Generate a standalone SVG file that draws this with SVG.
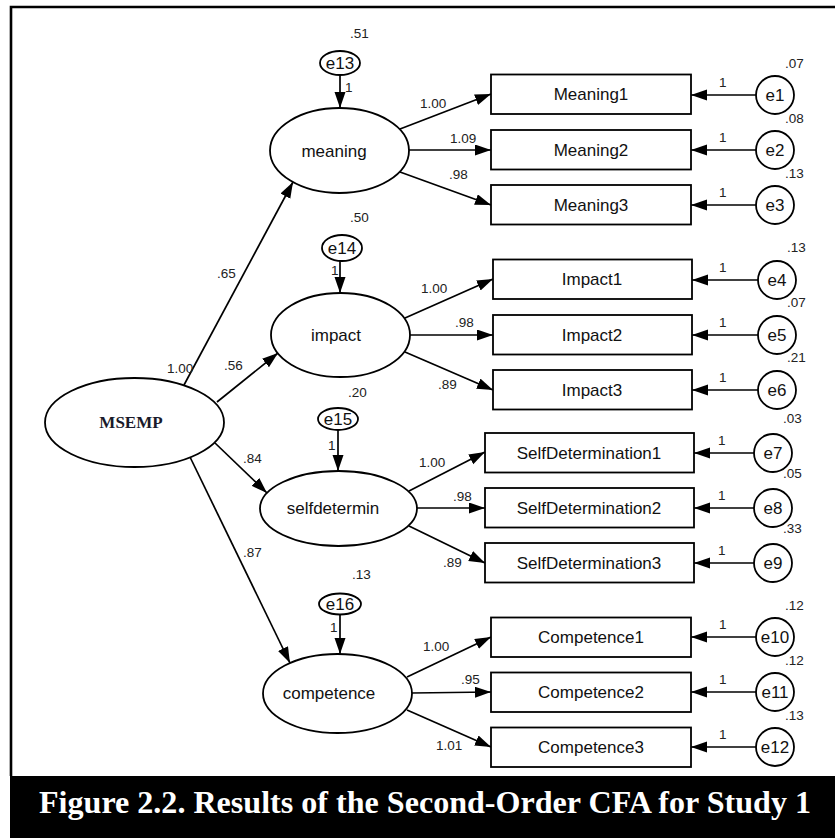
<svg xmlns="http://www.w3.org/2000/svg" width="835" height="838" viewBox="0 0 835 838">
<defs>
<style>
.shape{fill:#fff;stroke:#000;stroke-width:1.8}
.conn line{stroke:#000;stroke-width:1.7;marker-end:url(#ah)}
.lbl{font-family:"Liberation Sans",Arial,sans-serif;font-size:13.5px;fill:#222}
.nt{font-family:"Liberation Sans",Arial,sans-serif;font-size:17px;fill:#111;text-anchor:middle}
</style>
<marker id="ah" markerUnits="userSpaceOnUse" markerWidth="17" markerHeight="12" refX="16" refY="5.5" orient="auto">
<path d="M0,0 L16,5.5 L0,11 z" fill="#000"/>
</marker>
</defs>
<rect x="0" y="0" width="835" height="838" fill="#fff"/>
<path d="M11,776 V7 H835" fill="none" stroke="#000" stroke-width="2.6"/>
<rect x="10" y="776" width="825" height="62" fill="#000"/>
<text x="39" y="813" font-family="'Liberation Serif','Times New Roman',serif" font-weight="bold" font-size="32" fill="#fff" textLength="772" lengthAdjust="spacingAndGlyphs">Figure 2.2. Results of the Second-Order CFA for Study 1</text>

<g class="conn" id="connectors">
<line x1="184" y1="385" x2="293" y2="182"/>
<line x1="217" y1="402" x2="278" y2="353"/>
<line x1="215" y1="443" x2="267" y2="493"/>
<line x1="190" y1="457" x2="290" y2="663"/>
<line x1="340" y1="75" x2="340" y2="108"/>
<line x1="340" y1="261" x2="340" y2="293"/>
<line x1="338" y1="429" x2="338" y2="471"/>
<line x1="340" y1="614" x2="340" y2="654"/>
<line x1="400" y1="129" x2="491" y2="94"/>
<line x1="409" y1="150" x2="491" y2="150"/>
<line x1="400" y1="172" x2="491" y2="205"/>
<line x1="405" y1="318" x2="493" y2="279"/>
<line x1="410" y1="335" x2="493" y2="335"/>
<line x1="405" y1="352" x2="493" y2="390"/>
<line x1="409" y1="491" x2="485" y2="452"/>
<line x1="417" y1="508" x2="485" y2="508"/>
<line x1="409" y1="526" x2="485" y2="563"/>
<line x1="407" y1="677" x2="491" y2="637"/>
<line x1="412" y1="693" x2="491" y2="692"/>
<line x1="407" y1="710" x2="491" y2="747"/>
<line x1="756" y1="95" x2="691" y2="95"/>
<line x1="756" y1="150" x2="691" y2="150"/>
<line x1="756" y1="205" x2="691" y2="205"/>
<line x1="758" y1="280" x2="692" y2="280"/>
<line x1="758" y1="335" x2="692" y2="335"/>
<line x1="758" y1="390" x2="692" y2="390"/>
<line x1="754" y1="453" x2="694" y2="453"/>
<line x1="754" y1="508" x2="694" y2="508"/>
<line x1="754" y1="563" x2="694" y2="563"/>
<line x1="756" y1="637" x2="691" y2="637"/>
<line x1="756" y1="692" x2="691" y2="692"/>
<line x1="756" y1="747" x2="691" y2="747"/>
</g>

<g class="lbl" id="labels">
<text x="217" y="278">.65</text>
<text x="167" y="373">1.00</text>
<text x="224" y="370">.56</text>
<text x="243" y="463">.84</text>
<text x="243" y="557">.87</text>
<text x="420" y="108">1.00</text>
<text x="450" y="143">1.09</text>
<text x="449" y="179">.98</text>
<text x="421" y="293">1.00</text>
<text x="455" y="327">.98</text>
<text x="438" y="389">.89</text>
<text x="419" y="467">1.00</text>
<text x="453" y="501">.98</text>
<text x="443" y="567">.89</text>
<text x="423" y="651">1.00</text>
<text x="461" y="684">.95</text>
<text x="436" y="750">1.01</text>
<text x="345" y="92">1</text>
<text x="331" y="275">1</text>
<text x="328" y="450">1</text>
<text x="330" y="632">1</text>
<text x="350" y="38">.51</text>
<text x="350" y="222">.50</text>
<text x="348" y="397">.20</text>
<text x="352" y="579">.13</text>
<text x="719" y="87">1</text>
<text x="719" y="142">1</text>
<text x="719" y="197">1</text>
<text x="719" y="272">1</text>
<text x="719" y="327">1</text>
<text x="719" y="382">1</text>
<text x="718" y="445">1</text>
<text x="718" y="500">1</text>
<text x="718" y="555">1</text>
<text x="719" y="629">1</text>
<text x="719" y="684">1</text>
<text x="719" y="739">1</text>
<text x="785" y="68">.07</text>
<text x="785" y="123">.08</text>
<text x="785" y="178">.13</text>
<text x="787" y="252">.13</text>
<text x="787" y="307">.07</text>
<text x="787" y="362">.21</text>
<text x="783" y="423">.03</text>
<text x="783" y="478">.05</text>
<text x="783" y="533">.33</text>
<text x="785" y="610">.12</text>
<text x="785" y="665">.12</text>
<text x="785" y="720">.13</text>
</g>

<g id="MSEMP"><ellipse class="shape" cx="134.5" cy="422.5" rx="89.5" ry="44.5"/><text x="131" y="428" font-family="'Liberation Serif','Times New Roman',serif" font-weight="bold" font-size="17" fill="#1a1a2a" text-anchor="middle">MSEMP</text></g>

<g id="meaning"><ellipse class="shape" cx="339.5" cy="150.5" rx="69.5" ry="42.5"/><text class="nt" x="334" y="157">meaning</text></g>
<g id="impact"><ellipse class="shape" cx="340.5" cy="335" rx="69.5" ry="42"/><text class="nt" x="336" y="341">impact</text></g>
<g id="selfdetermin"><ellipse class="shape" cx="338.5" cy="508.5" rx="78.5" ry="37.5"/><text class="nt" x="333" y="514">selfdetermin</text></g>
<g id="competence"><ellipse class="shape" cx="337.5" cy="693.5" rx="74.5" ry="39.5"/><text class="nt" x="329" y="699">competence</text></g>

<g id="e13"><ellipse class="shape" cx="340" cy="63" rx="20" ry="12"/><text class="nt" x="340" y="69">e13</text></g>
<g id="e14"><ellipse class="shape" cx="342" cy="248" rx="20" ry="13"/><text class="nt" x="342" y="254">e14</text></g>
<g id="e15"><ellipse class="shape" cx="338" cy="419" rx="20" ry="11"/><text class="nt" x="338" y="425">e15</text></g>
<g id="e16"><ellipse class="shape" cx="340" cy="604" rx="21" ry="10.5"/><text class="nt" x="340" y="610">e16</text></g>

<g id="Meaning1"><rect class="shape" x="491" y="74.5" width="200" height="39.5"/><text class="nt" x="591" y="100">Meaning1</text></g>
<g id="Meaning2"><rect class="shape" x="491" y="130" width="200" height="39.5"/><text class="nt" x="591" y="156">Meaning2</text></g>
<g id="Meaning3"><rect class="shape" x="491" y="185" width="200" height="39.5"/><text class="nt" x="591" y="211">Meaning3</text></g>
<g id="Impact1"><rect class="shape" x="493" y="259.5" width="199" height="39.5"/><text class="nt" x="592" y="285">Impact1</text></g>
<g id="Impact2"><rect class="shape" x="493" y="315" width="199" height="39.5"/><text class="nt" x="592" y="341">Impact2</text></g>
<g id="Impact3"><rect class="shape" x="493" y="370" width="199" height="39.5"/><text class="nt" x="592" y="396">Impact3</text></g>
<g id="SelfDetermination1"><rect class="shape" x="485" y="433" width="209" height="39.5"/><text class="nt" x="589" y="459">SelfDetermination1</text></g>
<g id="SelfDetermination2"><rect class="shape" x="485" y="488" width="209" height="39.5"/><text class="nt" x="589" y="514">SelfDetermination2</text></g>
<g id="SelfDetermination3"><rect class="shape" x="485" y="543" width="209" height="39.5"/><text class="nt" x="589" y="569">SelfDetermination3</text></g>
<g id="Competence1"><rect class="shape" x="491" y="617.5" width="200" height="39.5"/><text class="nt" x="591" y="643">Competence1</text></g>
<g id="Competence2"><rect class="shape" x="491" y="672.5" width="200" height="39.5"/><text class="nt" x="591" y="698">Competence2</text></g>
<g id="Competence3"><rect class="shape" x="491" y="727.5" width="200" height="39.5"/><text class="nt" x="591" y="753">Competence3</text></g>

<g id="e1"><circle class="shape" cx="775" cy="95" r="19"/><text class="nt" x="775" y="101">e1</text></g>
<g id="e2"><circle class="shape" cx="775" cy="150" r="19"/><text class="nt" x="775" y="156">e2</text></g>
<g id="e3"><circle class="shape" cx="775" cy="205" r="19"/><text class="nt" x="775" y="211">e3</text></g>
<g id="e4"><circle class="shape" cx="777" cy="280" r="19"/><text class="nt" x="777" y="286">e4</text></g>
<g id="e5"><circle class="shape" cx="777" cy="335" r="19"/><text class="nt" x="777" y="341">e5</text></g>
<g id="e6"><circle class="shape" cx="777" cy="390" r="19"/><text class="nt" x="777" y="396">e6</text></g>
<g id="e7"><circle class="shape" cx="773" cy="453" r="19"/><text class="nt" x="773" y="459">e7</text></g>
<g id="e8"><circle class="shape" cx="773" cy="508" r="19"/><text class="nt" x="773" y="514">e8</text></g>
<g id="e9"><circle class="shape" cx="773" cy="563" r="19"/><text class="nt" x="773" y="569">e9</text></g>
<g id="e10"><circle class="shape" cx="775" cy="637" r="19"/><text class="nt" x="775" y="643">e10</text></g>
<g id="e11"><circle class="shape" cx="775" cy="692" r="19"/><text class="nt" x="775" y="698">e11</text></g>
<g id="e12"><circle class="shape" cx="775" cy="747" r="19"/><text class="nt" x="775" y="753">e12</text></g>
</svg>
